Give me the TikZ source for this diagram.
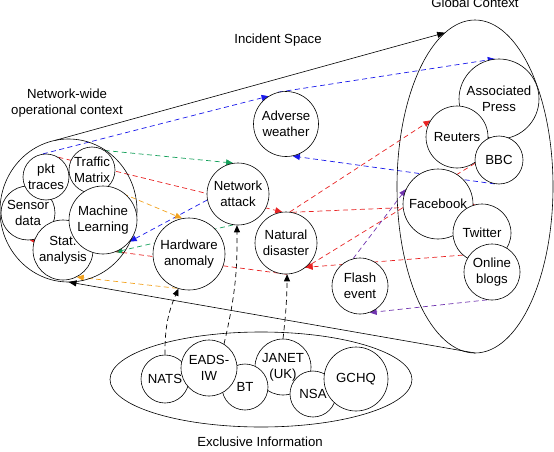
\documentclass[tikz,border=0pt]{standalone}
\usepackage{fontspec}
\setmainfont{Liberation Sans}
\usetikzlibrary{arrows.meta,shapes.geometric,backgrounds}
\definecolor{cblue}{RGB}{25,25,235}
\definecolor{cgreen}{RGB}{20,160,90}
\definecolor{cred}{RGB}{232,35,35}
\definecolor{corange}{RGB}{242,162,30}
\definecolor{cpurple}{RGB}{112,52,175}
\begin{document}
\begin{tikzpicture}[x=1pt,y=-1pt,
  every node/.style={font=\fontsize{13.2}{16}\selectfont},
  bub/.style={circle,draw,fill=white,inner sep=0pt,minimum size=#1,align=center,line width=0.6pt},
  region/.style={ellipse,draw,inner sep=0pt,outer sep=0pt,line width=0.6pt},
  lbl/.style={align=center,inner sep=0pt},
  flow/.style={draw=#1,line width=0.7pt,dash pattern=on 5pt off 3.5pt,-{Triangle[length=7pt,width=6pt]}},
  funnel/.style={draw=black,line width=0.6pt,-{Triangle[length=8pt,width=6pt]}}]
\useasboundingbox (0,0) rectangle (554,452);

% regions
\node[region,minimum width=137pt,minimum height=143pt] (left) at (68.5,210.5) {};
\node[region,minimum width=156pt,minimum height=333pt] (glob) at (475,186.5) {};
\node[region,minimum width=302pt,minimum height=95pt] (excl) at (261,379.5) {};

% labels
\node[lbl] (lnet) at (67,103) {Network-wide\\operational context};
\node[lbl,anchor=base] (linc) at (278,44) {Incident Space};
\node[lbl,anchor=base] (lglob) at (475,7.5) {Global Context};
\node[lbl,anchor=base] (lexcl) at (260,446) {Exclusive Information};

% network-wide operational context
\node[bub=54pt] (sensor) at (28,213) {Sensor\\data};
\node[bub=46pt] (pkt) at (46,177) {pkt\\traces};
\node[bub=46pt] (tm) at (92,170) {Traffic\\Matrix};
\node[bub=60pt] (stat) at (63,250) {Stat.\\analysis};
\node[bub=68pt] (ml) at (103,220) {Machine\\Learning};

% incident space
\node[bub=72pt] (hw) at (189,254) {Hardware\\anomaly};
\node[bub=62pt] (na) at (238,194) {Network\\attack};
\node[bub=65pt] (aw) at (286,124) {Adverse\\weather};
\node[bub=62pt] (nd) at (286,243) {Natural\\disaster};
\node[bub=56pt] (fe) at (360,286) {Flash\\event};

% global context
\node[bub=80pt] (ap) at (499,99) {Associated\\Press};
\node[bub=62pt] (reu) at (457,137) {Reuters};
\node[bub=48pt] (bbc) at (499,160) {BBC};
\node[bub=70pt] (fb) at (438,204) {Facebook};
\node[bub=58pt] (tw) at (482,233) {Twitter};
\node[bub=56pt] (ob) at (492,272) {Online\\blogs};

% exclusive information
\node[bub=48pt] (nats) at (165,379) {NATS};
\node[bub=56pt] (janet) at (283,367) {JANET\\(UK)};
\node[bub=46pt] (bt) at (245,387) {BT};
\node[bub=56pt] (eads) at (209,368) {EADS-\\IW};
\node[bub=46pt] (nsa) at (313,394) {NSA};
\node[bub=64pt] (gchq) at (356,379) {GCHQ};

\begin{pgfonlayer}{background}
% funnel
\draw[funnel] (left.101) -- (glob.101);
\draw[funnel] (glob.270) -- (left.270);
% blue
\draw[flow=cblue] (pkt.98) -- (aw.122);
\draw[flow=cblue] (aw.104) -- (ap.96);
\draw[flow=cblue] (bbc.260) -- (aw.282);
\draw[flow=cblue] (na.191) -- (ml.321);
% green
\draw[flow=cgreen] (tm.57) -- (na.99);
\draw[flow=cgreen] (na.261) -- (ml.291);
% red
\draw[flow=cred] (pkt.58) -- (nd.97);
\draw[flow=cred] (nd.83) -- (reu.148);
\draw[flow=cred] (nd.79) -- (tw.104);
\draw[flow=cred] (nd.272) -- (sensor.274);
\draw[flow=cred] (bbc.188) -- (nd.307);
\draw[flow=cred] (tw.229) -- (nd.309);
% orange
\draw[flow=corange] (tm.312) -- (hw.101);
\draw[flow=corange] (hw.251) -- (stat.297);
% purple
\draw[flow=cpurple] (ob.260) -- (fe.290);
\draw[flow=cpurple] (fe.104) -- (fb.155);
% black
\draw[flow=black] (nats.90) to[bend left=12] (hw.253);
\draw[flow=black] (eads.58) to[bend right=7] (na.268);
\draw[flow=black] (janet.90) to[bend right=3] (nd.272);
\end{pgfonlayer}
\end{tikzpicture}
\end{document}
